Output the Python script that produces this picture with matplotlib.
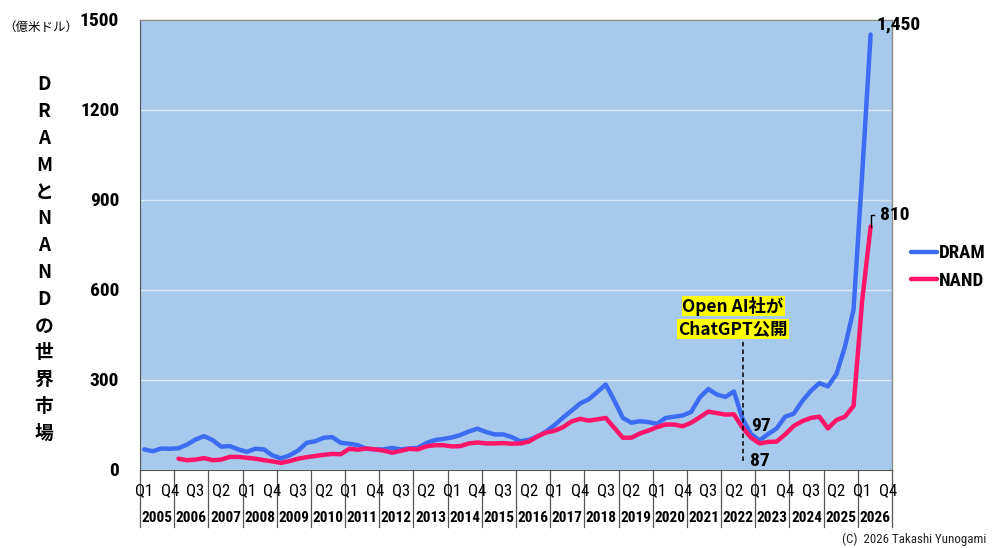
import numpy as np
import matplotlib
matplotlib.use("Agg")
import matplotlib.pyplot as plt
import matplotlib.transforms as mtransforms
from matplotlib import font_manager

# ---------------- data ----------------
years = list(range(2005, 2027))
quarter_names = ["Q1", "Q2", "Q3", "Q4"]

dram = [67, 61, 70, 69, 71, 83, 100, 111, 98, 76,
        78, 67, 59, 69, 67, 47, 37, 47, 63, 89,
        94, 106, 108, 89, 86, 81, 69, 67, 67, 72,
        67, 70, 72, 88, 98, 102, 107, 115, 127, 136,
        125, 117, 117, 108, 94, 99, 110, 126, 148, 173,
        196, 220, 234, 258, 283, 230, 172, 156, 161, 158,
        152, 172, 176, 180, 192, 240, 268, 250, 242, 260,
        170, 118, 97, 118, 137, 176, 186, 228, 262, 288,
        277, 318, 410, 533, 980, 1450]

nand_start = 4  # NAND series starts in 2006 Q1
nand = [36, 31, 33, 38, 31, 33, 42, 42, 39, 36,
        31, 27, 22, 28, 36, 41, 45, 49, 52, 51,
        69, 66, 70, 67, 63, 56, 62, 69, 67, 77,
        81, 81, 77, 78, 87, 90, 87, 87, 88, 86,
        87, 93, 110, 123, 129, 141, 160, 169, 163, 167,
        172, 139, 106, 106, 120, 130, 141, 150, 150, 144,
        156, 174, 193, 188, 183, 184, 140, 106, 87, 92,
        93, 117, 145, 161, 172, 176, 137, 165, 176, 212,
        560, 810]

yticks = [0, 300, 600, 900, 1200, 1500]
dram_label = "1,450"
nand_label = "810"
dram_min_label = "97"
nand_min_label = "87"
chatgpt_quarter = 70.05
event_lines = ["Open AI社が", "ChatGPT公開"]
ylabel_text = "DRAMとNANDの世界市場"
unit_text = "（億米ドル）"
credit = "(C)  2026 Takashi Yunogami"

# ---------------- fonts ----------------
ttf = font_manager.fontManager.ttflist
bold_fams = {f.name for f in ttf if f.weight in (700, "bold")}
cands = ["Liberation Sans Narrow", "Arial Narrow", "Roboto Condensed", "PT Sans Narrow",
         "Archivo Narrow", "Fira Sans Condensed", "IBM Plex Sans Condensed", "Asap Condensed",
         "Barlow Semi Condensed", "Encode Sans Condensed", "Pragati Narrow", "Liberation Sans"]
NARROW_NAME = next((c for c in cands if c in bold_fams), "DejaVu Sans")
NARROW = [NARROW_NAME, "DejaVu Sans"]
JP = ["Noto Sans CJK JP", "DejaVu Sans"]
plt.rcParams["font.family"] = NARROW

DRAM_C = "#3c6cf2"
NAND_C = "#ff1469"
BG = "#a7c9ec"

fig = plt.figure(figsize=(10, 5.48), dpi=100)
ax = fig.add_axes([0.140, 1 - 469.5 / 548, 0.752, 450 / 548])
ax.set_facecolor(BG)

n_q = len(years) * 4
x_d = np.arange(len(dram))
x_n = np.arange(nand_start, nand_start + len(nand))

ax.plot(x_d, dram, color=DRAM_C, lw=3.2, solid_joinstyle="round", solid_capstyle="round", label="DRAM", zorder=3)
ax.plot(x_n, nand, color=NAND_C, lw=3.2, solid_joinstyle="round", solid_capstyle="round", label="NAND", zorder=4)

ax.set_xlim(-0.5, n_q - 0.5)
ax.set_ylim(0, 1500)
ax.set_yticks(yticks)
ax.set_yticklabels([str(v) for v in yticks], fontsize=14, fontweight="bold")
ax.tick_params(axis="y", length=0, pad=15)
ax.set_xticks([])
ax.yaxis.grid(True, color="#dde9f6", lw=1.0)
ax.set_axisbelow(True)
for side in ["top", "right"]:
    ax.spines[side].set_color("#8a8a8a")
    ax.spines[side].set_linewidth(1.0)
ax.spines["left"].set_color("#555555")
ax.spines["bottom"].set_color("#555555")

# ---------------- category table under the axis ----------------
trans = mtransforms.blended_transform_factory(ax.transData, ax.transAxes)
tab_bottom = -(527 - 469.5) / 450
for k in range(len(years) + 1):
    xx = -0.5 + 4 * k
    ax.plot([xx, xx], [0, tab_bottom], transform=trans, color="#555555", lw=0.9, clip_on=False)
for i in range(0, n_q, 3):
    ax.text(i, -(491 - 469.5) / 450, quarter_names[i % 4], transform=trans,
            ha="center", va="center", fontsize=12)
for k, yr in enumerate(years):
    ax.text(-0.5 + 4 * k + 2, -(518 - 469.5) / 450, str(yr), transform=trans,
            ha="center", va="center", fontsize=11, fontweight="bold")

# ---------------- annotations ----------------
last = len(dram) - 1
ax.annotate(dram_label, (x_d[last], dram[last]), xytext=(4, 7), textcoords="offset points",
            fontsize=14, fontweight="bold", ha="left", va="center")
nl = x_n[-1]
ax.plot([nl, nl, nl + 0.45], [nand[-1], nand[-1] + 40, nand[-1] + 40], color="black", lw=1.0, zorder=5)
ax.text(nl + 1.1, nand[-1] + 40, nand_label, fontsize=14, fontweight="bold", ha="left", va="center")

imin = 72
ax.text(imin + 0.2, dram[imin] + 48, dram_min_label, fontsize=14, fontweight="bold", ha="center", va="center")
ax.text(imin, nand[imin - nand_start] - 59, nand_min_label, fontsize=14, fontweight="bold", ha="center", va="center")

ax.plot([chatgpt_quarter, chatgpt_quarter], [30, 432], color="black", lw=1.1, ls=(0, (3, 2)), zorder=6)
box_x = 68.9
ax.text(box_x, 545, event_lines[0], family=JP, fontsize=12.5, fontweight="bold",
        ha="center", va="center", bbox=dict(facecolor="#ffff00", edgecolor="none", pad=0.6), zorder=7)
ax.text(box_x, 469, event_lines[1], family=JP, fontsize=12.5, fontweight="bold",
        ha="center", va="center", bbox=dict(facecolor="#ffff00", edgecolor="none", pad=0.6), zorder=7)

# ---------------- legend ----------------
leg = ax.legend(loc="center left", bbox_to_anchor=(0.911, 1 - 267 / 548), bbox_transform=fig.transFigure,
                frameon=False, handlelength=1.4, handletextpad=0.1, labelspacing=0.5, borderpad=0,
                borderaxespad=0, prop={"family": NARROW, "size": 13.5, "weight": "bold"})

# ---------------- y label & unit ----------------
y0 = 1 - 85 / 548
step = 26.8 / 548
for j, ch in enumerate(ylabel_text):
    fig.text(0.044, y0 - j * step, ch, family=JP, fontsize=13.5, fontweight="bold", ha="center", va="center")
fig.text(0.041, 1 - 27 / 548, unit_text, family=JP, fontsize=9, ha="center", va="center")
fig.text(0.986, 1 - 539 / 548, credit, fontsize=9.3, ha="right", va="center", color="#222222")

fig.savefig("out.png", dpi=100)
